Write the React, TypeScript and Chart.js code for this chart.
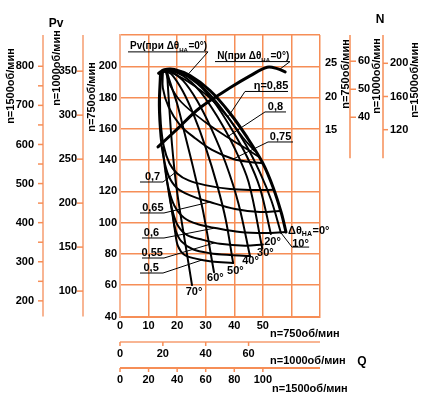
import React, { useEffect, useRef } from 'react';
import { Chart, registerables } from 'chart.js';

Chart.register(...registerables);

// ---------- axes (n = 750 rpm main scales) ----------
const Q_TICKS = [0, 10, 20, 30, 40, 50, 60, 70];
const Q_LABELS = ['0', '10', '20', '30', '40', '50', '', ''];
const PV_TICKS = [40, 60, 80, 100, 120, 140, 160, 180, 200, 220];
const PV_LABELS = ['40', '60', '80', '100', '120', '140', '160', '180', '200', ''];

// secondary axes (other speeds)
const PV1000_TICKS = [100, 150, 200, 250, 300, 350];
const PV1500_TICKS = [200, 250, 300, 350, 400, 450, 500, 550, 600, 650, 700, 750, 800];
const PV1500_LABELS = ['200', '', '300', '', '400', '', '500', '', '600', '', '700', '', '800'];
const N750_TICKS = [15, 20, 25];
const N1000_TICKS = [40, 50, 60];
const N1500_TICKS = [120, 160, 200];
const Q1000_TICKS = [0, 20, 40, 60];
const Q1500_TICKS = [0, 20, 40, 60, 80, 100];

// ---------- Pv curves for guide-vane angles (Q, Pv) ----------
const PV_0DEG = [[13.5, 195.5], [15.5, 197.8], [19, 198], [24.5, 194], [31.5, 184.5], [38.5, 170], [44.5, 154.5], [50, 138], [53.6, 122.5], [56.5, 106], [58.1, 94]];
const PV_10DEG = [[14, 195.5], [16, 197.5], [20, 197], [25, 192.5], [31, 183], [38, 167], [44, 150], [49, 132], [53, 114], [56.3, 93.6]];
const PV_20DEG = [[14.5, 196], [16.5, 197.5], [21, 196], [27, 189], [33, 177], [39, 160], [44.5, 142], [49, 122], [52.8, 92.7]];
const PV_30DEG = [[15, 196], [17, 197.5], [22, 194], [28, 184], [34, 168], [40, 148], [45, 126], [49.8, 83.5]];
const PV_40DEG = [[15.5, 196.5], [17.5, 197], [22, 191], [27, 178], [32, 160], [37, 138], [41.5, 112], [45.5, 78.5]];
const PV_50DEG = [[16, 196.5], [18, 195], [22, 184], [26, 168], [30, 148], [34, 124], [37, 102], [39.6, 74.2]];
const PV_60DEG = [[16.5, 196], [17.5, 190], [20, 176], [22.5, 158], [25.5, 136], [29, 108], [32.9, 68.3]];
const PV_70DEG = [[16.5, 195], [17.2, 175], [18.2, 150], [19.6, 125], [21.2, 105], [23, 85], [25.2, 60.1]];

// ---------- efficiency lines (Q, Pv) ----------
const ETA_085 = [[17, 197], [24, 190], [31, 180.5], [37.5, 168], [43, 154.5], [47, 146]];
const ETA_080 = [[16, 196.5], [17.5, 188], [21.5, 177], [29.8, 164.4], [37.5, 154.8], [43.8, 147.7], [48.7, 142]];
const ETA_075 = [[15, 196], [15, 186], [17, 174], [21, 162.4], [26.3, 154], [32.2, 146.5], [39.6, 140.7], [45.5, 138.8], [50, 138]];
const ETA_070 = [[14.5, 195.5], [14, 180], [14.3, 163], [15.3, 149], [17.3, 138], [20, 131.5], [24, 127], [29.8, 124], [38.5, 121.5], [47.2, 120.9], [53.8, 121]];
const ETA_065 = [[14, 195], [13.6, 175], [14.2, 155], [15.2, 142], [17, 130], [20, 122], [24.5, 117.5], [31.5, 113.2], [40.3, 108.7], [49, 106.8], [55.8, 107.5]];
const ETA_060 = [[15, 148], [15.8, 134], [17, 122], [19, 111], [22.5, 103], [27.3, 99], [33.3, 96.6], [42, 94], [50.8, 93.4], [58, 94]];
const ETA_055 = [[16, 133], [17, 120], [18.3, 108], [20.3, 98], [23.5, 92], [29, 89], [35, 86.5], [43.8, 85.3], [50, 86]];
const ETA_052 = [[17.2, 120], [18.3, 106], [19.5, 95], [21.5, 88], [25.5, 83], [31.5, 80.5], [38.5, 79.3], [45.5, 78.7]];
const ETA_050 = [[18.3, 108], [19.3, 94], [20.3, 85], [22.5, 79.5], [26.5, 77], [32, 75.2], [39.6, 74.2]];

// ---------- power curve N (Q, N at 750 rpm) ----------
const N_0DEG = [[13.3, 12.4], [20, 15.1], [28, 18.3], [38.5, 21.3], [45.5, 23.1], [51.5, 24.4], [55, 24.2], [57.8, 23.7]];

// ---------- label layout (in main-scale units) ----------
const ETA_TAGS = [
  { text: 'η=0,85', tq: 52.85, path: [[37.8, 167.6], [43.75, 183.9], [58.8, 183.9]] },
  { text: '0,8', tq: 54.4, path: [[37.5, 154.8], [50.75, 170.8], [58.1, 170.8]] },
  { text: '0,75', tq: 56.2, path: [[39.6, 140.7], [51.8, 151.6], [60.55, 151.6]] },
  { text: '0,7', tq: 11.4, path: [[19.5, 132.3], [15.05, 126.0], [7, 126.0]] },
  { text: '0,65', tq: 11.5, path: [[31.5, 113.2], [15.4, 106.2], [7, 106.2]] },
  { text: '0,6', tq: 11.0, path: [[33.3, 96.6], [15.4, 90.2], [7.7, 90.2]] },
  { text: '0,55', tq: 11.3, path: [[33.3, 87.2], [15.4, 77.4], [7.7, 77.4]] },
  { text: '0,5', tq: 10.9, path: [[29, 76.3], [15.05, 67.8], [7, 67.8]] },
];
const ANGLE_TAGS = [
  { text: '10°', q: 63.2, p: 86.2, path: [[56.3, 93.6], [60.2, 84.4], [66.2, 84.4]] },
  { text: '20°', q: 53.4, p: 87.6 },
  { text: '30°', q: 50.9, p: 80.9 },
  { text: '40°', q: 45.7, p: 75.8 },
  { text: '50°', q: 40.4, p: 68.8 },
  { text: '60°', q: 33.4, p: 64.9 },
  { text: '70°', q: 25.9, p: 55.7 },
];

const FONT = '"Liberation Sans", Arial, Helvetica, sans-serif';
const ORANGE = '#f68e57';
const PEACH = '#f8b593';
const N_MIN = -13.13;
const N_MAX = 29.26;

const toXY = (pts: number[][]) => pts.map(([x, y]) => ({ x, y }));

function curve(pts: number[][], width: number, axis = 'y') {
  return {
    data: toXY(pts),
    showLine: true,
    borderColor: '#000',
    backgroundColor: '#000',
    borderWidth: width,
    pointRadius: 0,
    pointHoverRadius: 0,
    tension: 0.35,
    fill: false,
    yAxisID: axis,
    borderCapStyle: 'round' as const,
    borderJoinStyle: 'round' as const,
  };
}

function subText(ctx: CanvasRenderingContext2D, parts: [string, boolean][], x: number, y: number, size: number) {
  let cx = x;
  for (const [t, sub] of parts) {
    ctx.font = `bold ${sub ? Math.round(size * 0.62) : size}px ${FONT}`;
    ctx.fillText(t, cx, sub ? y + size * 0.25 : y);
    cx += ctx.measureText(t).width + (sub ? 0.5 : 0);
  }
}

const overlay = {
  id: 'overlay',
  afterDraw(chart: any) {
    const ctx: CanvasRenderingContext2D = chart.ctx;
    const ca = chart.chartArea;
    const xs = chart.scales.x, ys = chart.scales.y, yn = chart.scales.yN;
    const X = (q: number) => xs.getPixelForValue(q);
    const Y = (p: number) => ys.getPixelForValue(p);
    const YN = (n: number) => yn.getPixelForValue(n);
    ctx.save();
    ctx.fillStyle = '#000';
    const line = (x1: number, y1: number, x2: number, y2: number, c: string, w: number) => {
      ctx.strokeStyle = c; ctx.lineWidth = w; ctx.beginPath(); ctx.moveTo(x1, y1); ctx.lineTo(x2, y2); ctx.stroke();
    };
    const rot = (t: string, cx: number, cy: number) => {
      ctx.save(); ctx.translate(cx, cy); ctx.rotate(-Math.PI / 2);
      ctx.font = `bold 11px ${FONT}`; ctx.textAlign = 'center'; ctx.textBaseline = 'middle';
      ctx.fillText(t, 0, 0); ctx.restore();
    };

    ctx.font = `bold 11px ${FONT}`;
    ctx.textBaseline = 'middle';

    // ---- main tick labels ----
    ctx.textAlign = 'right';
    PV_TICKS.forEach((v, i) => { if (PV_LABELS[i]) ctx.fillText(PV_LABELS[i], ca.left - 3, Y(v)); });
    ctx.textAlign = 'center';
    Q_TICKS.forEach((v, i) => { if (Q_LABELS[i]) ctx.fillText(Q_LABELS[i], X(v), ca.bottom + 9); });

    // ---- left Pv axes ----
    ctx.textAlign = 'right';
    const ax1500 = 43, ax1000 = 83;
    line(ax1500, ca.top, ax1500, ca.bottom, PEACH, 2);
    PV1500_TICKS.forEach((v, i) => {
      const y = Y(v / 4);
      line(ax1500 - 5, y, ax1500, y, ORANGE, 1.5);
      if (PV1500_LABELS[i]) ctx.fillText(PV1500_LABELS[i], ax1500 - 9, y);
    });
    line(ax1000, ca.top, ax1000, ca.bottom, PEACH, 2);
    PV1000_TICKS.forEach((v) => {
      const y = Y(v * 9 / 16);
      line(ax1000 - 6, y, ax1000, y, ORANGE, 1.5);
      ctx.fillText(String(v), ax1000 - 6, y);
    });

    // ---- right N axes ----
    ctx.textAlign = 'left';
    N750_TICKS.forEach((v) => ctx.fillText(String(v), ca.right + 5, YN(v)));
    const axN1000 = 350, axN1500 = 383;
    line(axN1000, ca.top, axN1000, YN(10.7), ORANGE, 1.5);
    N1000_TICKS.forEach((v) => {
      const y = YN(v * 27 / 64);
      line(axN1000, y, axN1000 + 6, y, ORANGE, 1.5);
      ctx.fillText(String(v), axN1000 + 8, y);
    });
    line(axN1500, ca.top, axN1500, YN(10.7), ORANGE, 1.5);
    N1500_TICKS.forEach((v) => {
      const y = YN(v / 8);
      line(axN1500, y, axN1500 + 5, y, ORANGE, 1.5);
      ctx.fillText(String(v), axN1500 + 7, y);
    });

    // ---- bottom Q axes ----
    ctx.textAlign = 'center';
    const axQ1000 = 342, axQ1500 = 368;
    line(ca.left, axQ1000, ca.right, axQ1000, PEACH, 2);
    Q1000_TICKS.forEach((v) => {
      const x = X(v * 3 / 4);
      line(x, axQ1000, x, axQ1000 + 4, ORANGE, 1.5);
      ctx.fillText(String(v), x, axQ1000 + 12);
    });
    line(ca.left, axQ1500, ca.right, axQ1500, ORANGE, 2);
    Q1500_TICKS.forEach((v) => {
      const x = X(v / 2);
      line(x, axQ1500, x, axQ1500 + 4, ORANGE, 1.5);
      ctx.fillText(String(v), x, axQ1500 + 12);
    });

    // ---- axis titles ----
    ctx.textAlign = 'left';
    ctx.fillText('n=750об/мин', 270, 333.5);
    ctx.fillText('n=1000об/мин', 270, 361);
    ctx.fillText('n=1500об/мин', 272, 388.5);
    ctx.font = `bold 12px ${FONT}`;
    ctx.textAlign = 'center';
    ctx.fillText('Q', 362, 362);
    ctx.fillText('Pv', 56, 24);
    ctx.fillText('N', 380, 20);
    rot('n=1500об/мин', 11, 86);
    rot('n=1000об/мин', 57, 68);
    rot('n=750об/мин', 92, 97);
    rot('n=750об/мин', 346, 74);
    rot('n=1000об/мин', 377, 76);
    rot('n=1500об/мин', 415, 80);

    // ---- efficiency labels with leaders ----
    const poly = (pts: number[][], w = 1) => {
      ctx.strokeStyle = '#000'; ctx.lineWidth = w; ctx.beginPath();
      pts.forEach(([q, p], i) => (i ? ctx.lineTo(X(q), Y(p)) : ctx.moveTo(X(q), Y(p))));
      ctx.stroke();
    };
    ctx.font = `bold 11px ${FONT}`;
    ctx.textAlign = 'center';
    ctx.textBaseline = 'alphabetic';
    ETA_TAGS.forEach((t) => {
      poly(t.path);
      ctx.fillText(t.text, X(t.tq), Y(t.path[1][1]) - 2);
    });
    ANGLE_TAGS.forEach((t) => {
      if (t.path) poly(t.path);
      ctx.textBaseline = 'middle';
      ctx.fillText(t.text, X(t.q), Y(t.p));
    });
    ctx.textAlign = 'left';
    ctx.textBaseline = 'alphabetic';
    subText(ctx, [['Δθ', false], ['НА', true], ['=0°', false]], X(58.8), Y(95.6) + 4, 11);

    // ---- top curve names ----
    poly([[23.8, 194.8], [30.8, 209.2], [2.8, 209.2]]);
    subText(ctx, [['Pv(при Δθ', false], ['НА', true], ['=0°)', false]], X(3.5), Y(209.2) - 2.5, 10);
    poly([[56, 198.2], [59.5, 203.0], [33.25, 203.0]]);
    subText(ctx, [['N(при Δθ', false], ['НА', true], ['=0°)', false]], X(34), Y(203.0) - 2.5, 10);

    ctx.restore();
  },
};

export default function App() {
  const ref = useRef<HTMLCanvasElement>(null);
  useEffect(() => {
    if (!ref.current) return;
    const chart = new Chart(ref.current, {
      type: 'scatter',
      data: {
        datasets: [
          curve(PV_70DEG, 2), curve(PV_60DEG, 2), curve(PV_50DEG, 2), curve(PV_40DEG, 2),
          curve(PV_30DEG, 2), curve(PV_20DEG, 2), curve(PV_10DEG, 2),
          curve(ETA_085, 1.8), curve(ETA_080, 1.8), curve(ETA_075, 2), curve(ETA_070, 2),
          curve(ETA_065, 2), curve(ETA_060, 2), curve(ETA_055, 2), curve(ETA_052, 2), curve(ETA_050, 2),
          curve(PV_0DEG, 3),
          curve(N_0DEG, 3, 'yN'),
        ],
      },
      options: {
        responsive: false,
        animation: false,
        devicePixelRatio: 1,
        layout: { padding: { left: 120, right: 106, top: 35, bottom: 77.5 } },
        plugins: { legend: { display: false }, tooltip: { enabled: false } },
        events: [],
        scales: {
          x: {
            type: 'linear', position: 'bottom', min: 0, max: 70,
            afterFit: (s: any) => { s.height = 0; },
            grid: { color: ORANGE, lineWidth: 1.5, drawTicks: false },
            border: { color: ORANGE, width: 2 },
            ticks: { stepSize: 10, autoSkip: false, display: false },
          },
          y: {
            type: 'linear', position: 'left', min: 40, max: 220,
            afterFit: (s: any) => { s.width = 0; },
            grid: { color: ORANGE, lineWidth: 1.5, drawTicks: false },
            border: { color: PEACH, width: 2 },
            ticks: { stepSize: 20, autoSkip: false, display: false },
          },
          yN: { type: 'linear', position: 'right', min: N_MIN, max: N_MAX, display: false },
        },
      } as any,
      plugins: [overlay],
    });
    return () => chart.destroy();
  }, []);
  return (
    <canvas
      ref={ref}
      width={426}
      height={394}
      style={{ position: 'fixed', left: 0, top: 0, width: '426px', height: '394px' }}
    />
  );
}
